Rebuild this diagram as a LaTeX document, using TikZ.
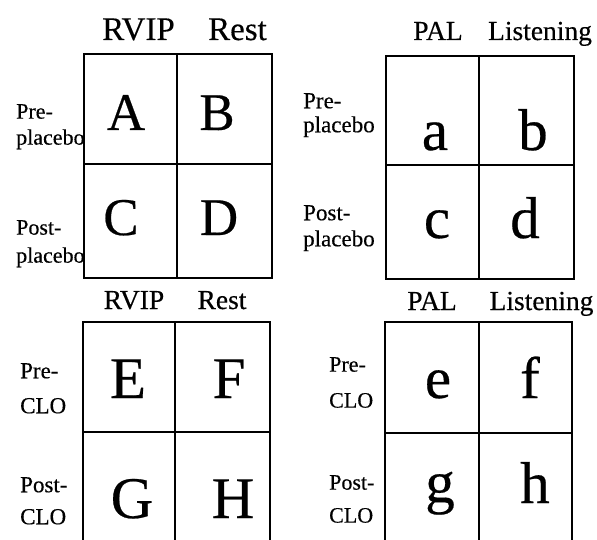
\documentclass[tikz,border=0pt]{standalone}
\usepackage{fontspec}
\setmainfont[FakeBold=0.4]{Liberation Serif}
\usepackage{tikz}

\begin{document}
\begin{tikzpicture}[
  x=1pt,y=-1pt,
  grid/.style={draw=black,line width=2.4pt},
  head/.style={anchor=base,inner sep=0pt,font=\fontsize{27.5}{30}\selectfont},
  headbig/.style={head,font=\fontsize{33}{36}\selectfont},
  side/.style={anchor=north west,inner sep=0pt,align=left},
  letter/.style={anchor=base,inner sep=0pt,font=\fontsize{59}{60}\selectfont},
  lettersmall/.style={letter,font=\fontsize{53}{54}\selectfont}
]
\useasboundingbox (0,0) rectangle (597,540);

% top left: placebo, RVIP / Rest
\draw[grid] (84,54) rectangle (272,278);
\draw[grid] (177,54) -- (177,278);
\draw[grid] (84,164) -- (272,164);
\node[headbig] (rvip1) at (138.5,40) {RVIP};
\node[headbig] (rest1) at (237.5,40) {Rest};
\node[side,font=\fontsize{22}{26}\selectfont] (pre1) at (16,104) {Pre-\\placebo};
\node[side,font=\fontsize{22}{28}\selectfont] (post1) at (16,220) {Post-\\placebo};
\node[lettersmall] (A) at (126,130) {A};
\node[lettersmall] (B) at (217,130) {B};
\node[lettersmall] (C) at (121,235) {C};
\node[lettersmall] (D) at (219,235) {D};

% top right: placebo, PAL / Listening
\draw[grid] (386,56) rectangle (574,279);
\draw[grid] (479,56) -- (479,279);
\draw[grid] (386,165) -- (574,165);
\node[head] (pal1) at (438,40) {PAL};
\node[head] (lis1) at (540,40) {Listening};
\node[side,font=\fontsize{23}{24}\selectfont] (pre2) at (303,93) {Pre-\\placebo};
\node[side,font=\fontsize{23}{26}\selectfont] (post2) at (303,205) {Post-\\placebo};
\node[letter] (a) at (435,150) {a};
\node[letter] (b) at (533,150) {b};
\node[letter] (c) at (437,238) {c};
\node[letter] (d) at (525,238) {d};

% bottom left: CLO, RVIP / Rest
\draw[grid] (83,542) -- (83,322) -- (270,322) -- (270,542);
\draw[grid] (175,322) -- (175,542);
\draw[grid] (83,432) -- (270,432);
\node[head] (rvip2) at (134,309) {RVIP};
\node[head] (rest2) at (222,309) {Rest};
\node[side,font=\fontsize{23}{35}\selectfont] (pre3) at (20,363) {Pre-\\CLO};
\node[side,font=\fontsize{23}{32}\selectfont] (post3) at (20,477) {Post-\\CLO};
\node[letter] (E) at (128,398) {E};
\node[letter] (F) at (229,398) {F};
\node[letter] (G) at (132,518) {G};
\node[letter] (H) at (233,518) {H};

% bottom right: CLO, PAL / Listening
\draw[grid] (385,542) -- (385,322) -- (572,322) -- (572,542);
\draw[grid] (479,322) -- (479,542);
\draw[grid] (385,433) -- (572,433);
\node[head] (pal2) at (432,310) {PAL};
\node[head] (lis2) at (541.5,310) {Listening};
\node[side,font=\fontsize{22}{36}\selectfont] (pre4) at (329,357) {Pre-\\CLO};
\node[side,font=\fontsize{22}{33}\selectfont] (post4) at (329,475) {Post-\\CLO};
\node[letter] (e) at (438,398) {e};
\node[letter] (f) at (530,398) {f};
\node[letter] (g) at (440,502) {g};
\node[letter] (h) at (535,503) {h};
\end{tikzpicture}
\end{document}
